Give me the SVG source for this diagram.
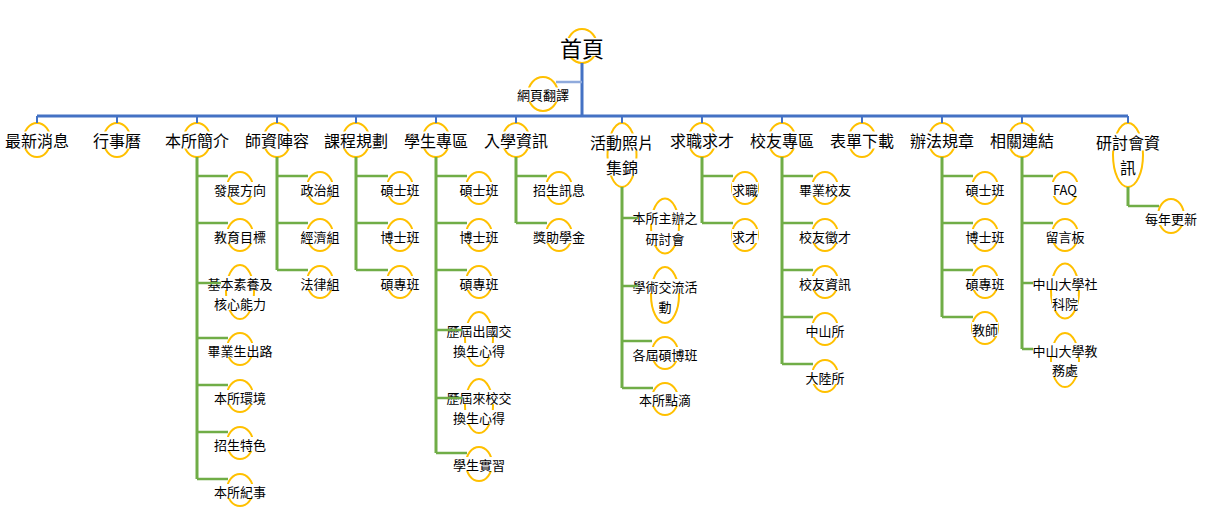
<svg xmlns="http://www.w3.org/2000/svg" width="1213" height="521" viewBox="0 0 1213 521">
<style>
text{font-family:"Noto Sans CJK TC","Noto Sans CJK SC",sans-serif;fill:#000;text-anchor:middle;dominant-baseline:central}
.t0{font-size:22px}
.t1{font-size:16px}
.t2{font-size:13px}
.e{fill:none;stroke:#FFC000;stroke-width:2}
.bg{fill:#fff}
.b{fill:none;stroke:#4472C4;stroke-width:3}
.bd{fill:none;stroke:#4472C4;stroke-width:2}
.bl{fill:none;stroke:#8FAADC;stroke-width:2.5}
.gv{fill:none;stroke:#70AD47;stroke-width:3}
.gh{fill:none;stroke:#70AD47;stroke-width:2.5}
</style>
<rect width="1213" height="521" fill="#fff"/>
<g id="nodes">
<g id="n-root"><ellipse class="e" cx="582" cy="46" rx="15" ry="17"/><rect class="bg" x="560" y="38" width="44" height="18"/><text class="t0" x="582" y="47">首頁</text></g>
<g id="n-translate"><ellipse class="e" cx="543" cy="94" rx="15" ry="17"/><rect class="bg" x="517" y="87.5" width="52" height="14"/><text class="t2" x="543" y="94.5">網頁翻譯</text></g>

<g id="n-news"><ellipse class="e" cx="37" cy="140" rx="13.5" ry="17"/><rect class="bg" x="5" y="131.5" width="64" height="17"/><text class="t1" x="37" y="140">最新消息</text></g>
<g id="n-calendar"><ellipse class="e" cx="117" cy="140" rx="13.5" ry="17"/><rect class="bg" x="93" y="131.5" width="48" height="17"/><text class="t1" x="117" y="140">行事曆</text></g>
<g id="n-about"><ellipse class="e" cx="197" cy="140" rx="13.5" ry="17"/><rect class="bg" x="165" y="131.5" width="64" height="17"/><text class="t1" x="197" y="140">本所簡介</text></g>
<g id="n-faculty"><ellipse class="e" cx="277" cy="140" rx="13.5" ry="17"/><rect class="bg" x="245" y="131.5" width="64" height="17"/><text class="t1" x="277" y="140">師資陣容</text></g>
<g id="n-courses"><ellipse class="e" cx="356" cy="140" rx="13.5" ry="17"/><rect class="bg" x="324" y="131.5" width="64" height="17"/><text class="t1" x="356" y="140">課程規劃</text></g>
<g id="n-students"><ellipse class="e" cx="436" cy="140" rx="13.5" ry="17"/><rect class="bg" x="404" y="131.5" width="64" height="17"/><text class="t1" x="436" y="140">學生專區</text></g>
<g id="n-admission"><ellipse class="e" cx="516" cy="140" rx="13.5" ry="17"/><rect class="bg" x="484" y="131.5" width="64" height="17"/><text class="t1" x="516" y="140">入學資訊</text></g>
<g id="n-photos"><ellipse class="e" cx="622" cy="155" rx="14.5" ry="32"/><rect class="bg" x="590" y="133.5" width="64" height="17"/><rect class="bg" x="606" y="158.5" width="32" height="17"/><text class="t1" x="622" y="142">活動照片</text><text class="t1" x="622" y="167">集錦</text></g>
<g id="n-jobs"><ellipse class="e" cx="702" cy="140" rx="13.5" ry="17"/><rect class="bg" x="670" y="131.5" width="64" height="17"/><text class="t1" x="702" y="140">求職求才</text></g>
<g id="n-alumni"><ellipse class="e" cx="782" cy="140" rx="13.5" ry="17"/><rect class="bg" x="750" y="131.5" width="64" height="17"/><text class="t1" x="782" y="140">校友專區</text></g>
<g id="n-forms"><ellipse class="e" cx="862" cy="140" rx="13.5" ry="17"/><rect class="bg" x="830" y="131.5" width="64" height="17"/><text class="t1" x="862" y="140">表單下載</text></g>
<g id="n-rules"><ellipse class="e" cx="942" cy="140" rx="13.5" ry="17"/><rect class="bg" x="910" y="131.5" width="64" height="17"/><text class="t1" x="942" y="140">辦法規章</text></g>
<g id="n-links"><ellipse class="e" cx="1022" cy="140" rx="13.5" ry="17"/><rect class="bg" x="990" y="131.5" width="64" height="17"/><text class="t1" x="1022" y="140">相關連結</text></g>
<g id="n-seminar"><ellipse class="e" cx="1128" cy="155" rx="15" ry="32"/><rect class="bg" x="1096" y="133.5" width="64" height="17"/><rect class="bg" x="1120" y="158.5" width="16" height="17"/><text class="t1" x="1128" y="142">研討會資</text><text class="t1" x="1128" y="167">訊</text></g>

<!-- 本所簡介 children -->
<g id="n-about-1"><ellipse class="e" cx="240" cy="188" rx="13" ry="16"/><rect class="bg" x="214" y="182" width="52" height="14"/><text class="t2" x="240" y="189">發展方向</text></g>
<g id="n-about-2"><ellipse class="e" cx="240" cy="235" rx="13" ry="16"/><rect class="bg" x="214" y="229" width="52" height="14"/><text class="t2" x="240" y="236">教育目標</text></g>
<g id="n-about-3"><ellipse class="e" cx="240" cy="292" rx="14" ry="27"/><rect class="bg" x="207.5" y="276" width="65" height="14"/><rect class="bg" x="214" y="296" width="52" height="14"/><text class="t2" x="240" y="283">基本素養及</text><text class="t2" x="240" y="303">核心能力</text></g>
<g id="n-about-4"><ellipse class="e" cx="240" cy="349" rx="13" ry="16"/><rect class="bg" x="207.5" y="343" width="65" height="14"/><text class="t2" x="240" y="350">畢業生出路</text></g>
<g id="n-about-5"><ellipse class="e" cx="240" cy="396" rx="13" ry="16"/><rect class="bg" x="214" y="390" width="52" height="14"/><text class="t2" x="240" y="397">本所環境</text></g>
<g id="n-about-6"><ellipse class="e" cx="240" cy="443" rx="13" ry="16"/><rect class="bg" x="214" y="437" width="52" height="14"/><text class="t2" x="240" y="444">招生特色</text></g>
<g id="n-about-7"><ellipse class="e" cx="240" cy="490" rx="13" ry="16"/><rect class="bg" x="214" y="484" width="52" height="14"/><text class="t2" x="240" y="491">本所紀事</text></g>

<!-- 師資陣容 children -->
<g id="n-fac-1"><ellipse class="e" cx="320" cy="188" rx="13" ry="16"/><rect class="bg" x="300.5" y="182" width="39" height="14"/><text class="t2" x="320" y="189">政治組</text></g>
<g id="n-fac-2"><ellipse class="e" cx="320" cy="235" rx="13" ry="16"/><rect class="bg" x="300.5" y="229" width="39" height="14"/><text class="t2" x="320" y="236">經濟組</text></g>
<g id="n-fac-3"><ellipse class="e" cx="320" cy="282" rx="13" ry="16"/><rect class="bg" x="300.5" y="276" width="39" height="14"/><text class="t2" x="320" y="283">法律組</text></g>

<!-- 課程規劃 children -->
<g id="n-crs-1"><ellipse class="e" cx="400" cy="188" rx="13" ry="16"/><rect class="bg" x="380.5" y="182" width="39" height="14"/><text class="t2" x="400" y="189">碩士班</text></g>
<g id="n-crs-2"><ellipse class="e" cx="400" cy="235" rx="13" ry="16"/><rect class="bg" x="380.5" y="229" width="39" height="14"/><text class="t2" x="400" y="236">博士班</text></g>
<g id="n-crs-3"><ellipse class="e" cx="400" cy="282" rx="13" ry="16"/><rect class="bg" x="380.5" y="276" width="39" height="14"/><text class="t2" x="400" y="283">碩專班</text></g>

<!-- 學生專區 children -->
<g id="n-stu-1"><ellipse class="e" cx="479" cy="188" rx="13" ry="16"/><rect class="bg" x="459.5" y="182" width="39" height="14"/><text class="t2" x="479" y="189">碩士班</text></g>
<g id="n-stu-2"><ellipse class="e" cx="479" cy="235" rx="13" ry="16"/><rect class="bg" x="459.5" y="229" width="39" height="14"/><text class="t2" x="479" y="236">博士班</text></g>
<g id="n-stu-3"><ellipse class="e" cx="479" cy="282" rx="13" ry="16"/><rect class="bg" x="459.5" y="276" width="39" height="14"/><text class="t2" x="479" y="283">碩專班</text></g>
<g id="n-stu-4"><ellipse class="e" cx="479" cy="339" rx="14" ry="27"/><rect class="bg" x="446.5" y="323" width="65" height="14"/><rect class="bg" x="453" y="343" width="52" height="14"/><text class="t2" x="479" y="330">歷屆出國交</text><text class="t2" x="479" y="350">換生心得</text></g>
<g id="n-stu-5"><ellipse class="e" cx="479" cy="406" rx="14" ry="27"/><rect class="bg" x="446.5" y="390" width="65" height="14"/><rect class="bg" x="453" y="410" width="52" height="14"/><text class="t2" x="479" y="397">歷屆來校交</text><text class="t2" x="479" y="417">換生心得</text></g>
<g id="n-stu-6"><ellipse class="e" cx="479" cy="464" rx="13" ry="17"/><rect class="bg" x="453" y="457" width="52" height="14"/><text class="t2" x="479" y="464">學生實習</text></g>

<!-- 入學資訊 children -->
<g id="n-adm-1"><ellipse class="e" cx="559" cy="188" rx="13" ry="16"/><rect class="bg" x="533" y="182" width="52" height="14"/><text class="t2" x="559" y="189">招生訊息</text></g>
<g id="n-adm-2"><ellipse class="e" cx="559" cy="235" rx="13" ry="16"/><rect class="bg" x="533" y="229" width="52" height="14"/><text class="t2" x="559" y="236">獎助學金</text></g>

<!-- 活動照片集錦 children -->
<g id="n-pho-1"><ellipse class="e" cx="665" cy="226" rx="14" ry="27.5"/><rect class="bg" x="632.5" y="210" width="65" height="14"/><rect class="bg" x="645.5" y="231" width="39" height="14"/><text class="t2" x="665" y="217">本所主辦之</text><text class="t2" x="665" y="238">研討會</text></g>
<g id="n-pho-2"><ellipse class="e" cx="665" cy="295" rx="14" ry="28"/><rect class="bg" x="632.5" y="279" width="65" height="14"/><rect class="bg" x="658.5" y="299" width="13" height="14"/><text class="t2" x="665" y="286">學術交流活</text><text class="t2" x="665" y="306">動</text></g>
<g id="n-pho-3"><ellipse class="e" cx="665" cy="353" rx="13" ry="16"/><rect class="bg" x="632.5" y="347" width="65" height="14"/><text class="t2" x="665" y="354">各屆碩博班</text></g>
<g id="n-pho-4"><ellipse class="e" cx="665" cy="399" rx="13" ry="16"/><rect class="bg" x="639" y="392" width="52" height="14"/><text class="t2" x="665" y="399">本所點滴</text></g>

<!-- 求職求才 children -->
<g id="n-job-1"><ellipse class="e" cx="745" cy="188" rx="13" ry="16"/><rect class="bg" x="732" y="182" width="26" height="14"/><text class="t2" x="745" y="189">求職</text></g>
<g id="n-job-2"><ellipse class="e" cx="745" cy="235" rx="13" ry="16"/><rect class="bg" x="732" y="229" width="26" height="14"/><text class="t2" x="745" y="236">求才</text></g>

<!-- 校友專區 children -->
<g id="n-alu-1"><ellipse class="e" cx="825" cy="188" rx="13" ry="16"/><rect class="bg" x="799" y="182" width="52" height="14"/><text class="t2" x="825" y="189">畢業校友</text></g>
<g id="n-alu-2"><ellipse class="e" cx="825" cy="235" rx="13" ry="16"/><rect class="bg" x="799" y="229" width="52" height="14"/><text class="t2" x="825" y="236">校友徵才</text></g>
<g id="n-alu-3"><ellipse class="e" cx="825" cy="282" rx="13" ry="16"/><rect class="bg" x="799" y="276" width="52" height="14"/><text class="t2" x="825" y="283">校友資訊</text></g>
<g id="n-alu-4"><ellipse class="e" cx="825" cy="329" rx="13" ry="16"/><rect class="bg" x="805.5" y="323" width="39" height="14"/><text class="t2" x="825" y="330">中山所</text></g>
<g id="n-alu-5"><ellipse class="e" cx="825" cy="376" rx="13" ry="16"/><rect class="bg" x="805.5" y="370" width="39" height="14"/><text class="t2" x="825" y="377">大陸所</text></g>

<!-- 辦法規章 children -->
<g id="n-rul-1"><ellipse class="e" cx="985" cy="188" rx="13" ry="16"/><rect class="bg" x="965.5" y="182" width="39" height="14"/><text class="t2" x="985" y="189">碩士班</text></g>
<g id="n-rul-2"><ellipse class="e" cx="985" cy="235" rx="13" ry="16"/><rect class="bg" x="965.5" y="229" width="39" height="14"/><text class="t2" x="985" y="236">博士班</text></g>
<g id="n-rul-3"><ellipse class="e" cx="985" cy="282" rx="13" ry="16"/><rect class="bg" x="965.5" y="276" width="39" height="14"/><text class="t2" x="985" y="283">碩專班</text></g>
<g id="n-rul-4"><ellipse class="e" cx="985" cy="328" rx="13" ry="16"/><rect class="bg" x="972" y="322" width="26" height="14"/><text class="t2" x="985" y="329">教師</text></g>

<!-- 相關連結 children -->
<g id="n-lnk-1"><ellipse class="e" cx="1065" cy="188" rx="13" ry="16"/><rect class="bg" x="1047" y="182" width="36" height="14"/><text class="t2" x="1065" y="189">FAQ</text></g>
<g id="n-lnk-2"><ellipse class="e" cx="1065" cy="235" rx="13" ry="16"/><rect class="bg" x="1045.5" y="229" width="39" height="14"/><text class="t2" x="1065" y="236">留言板</text></g>
<g id="n-lnk-3"><ellipse class="e" cx="1065" cy="291" rx="14" ry="27.5"/><rect class="bg" x="1032.5" y="276" width="65" height="14"/><rect class="bg" x="1052" y="296" width="26" height="14"/><text class="t2" x="1065" y="283">中山大學社</text><text class="t2" x="1065" y="303">科院</text></g>
<g id="n-lnk-4"><ellipse class="e" cx="1065" cy="360" rx="14" ry="27"/><rect class="bg" x="1032.5" y="343" width="65" height="14"/><rect class="bg" x="1045.5" y="362" width="39" height="14"/><text class="t2" x="1065" y="350">中山大學教</text><text class="t2" x="1065" y="369">務處</text></g>

<!-- 研討會資訊 child -->
<g id="n-sem-1"><ellipse class="e" cx="1171" cy="216" rx="13" ry="17"/><rect class="bg" x="1145" y="211" width="52" height="14"/><text class="t2" x="1171" y="218">每年更新</text></g>
</g>

<g id="connectors">
<path class="b" d="M582 63V116M37 116H1128"/>
<path class="bl" d="M582 82H556"/>
<path class="bd" d="M37 116V123M117 116V123M197 116V123M277 116V123M356 116V123M436 116V123M516 116V123M622 116V123M702 116V123M782 116V123M862 116V123M942 116V123M1022 116V123M1128 116V123"/>
<path class="gv" d="M197 157V479M277 157V270M356 157V270M436 157V453M516 157V223M622 187V388M702 157V223M782 157V364M942 157V317M1022 157V349M1128 187V206"/>
<path class="gh" d="M197 176H228M197 223H228M197 283H221M197 338H228M197 385H228M197 432H228M197 479H228"/>
<path class="gh" d="M277 176H308M277 223H308M277 270H308"/>
<path class="gh" d="M356 176H388M356 223H388M356 270H388"/>
<path class="gh" d="M436 176H467M436 223H467M436 270H467M436 330H462M436 398H462M436 453H467"/>
<path class="gh" d="M516 176H547M516 223H547"/>
<path class="gh" d="M622 218H638M622 286H638M622 341H652M622 388H653"/>
<path class="gh" d="M702 176H733M702 223H733"/>
<path class="gh" d="M782 176H813M782 223H813M782 270H813M782 317H813M782 364H813"/>
<path class="gh" d="M942 176H973M942 223H973M942 270H973M942 317H973"/>
<path class="gh" d="M1022 176H1053M1022 223H1053M1022 283H1033M1022 349H1033"/>
<path class="gh" d="M1128 206H1159"/>
</g>
</svg>
